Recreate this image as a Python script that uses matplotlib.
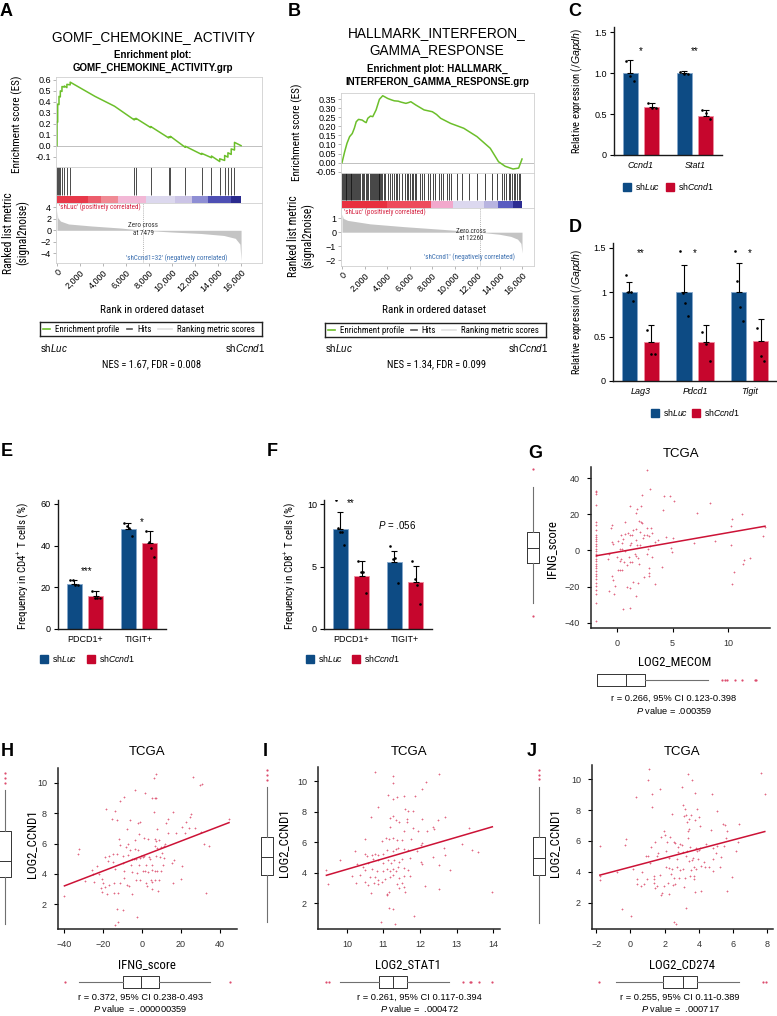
import numpy as np
import matplotlib.pyplot as plt
from matplotlib.patches import Rectangle

W, H = 777, 1016

plt.rcParams['font.family'] = ['Liberation Sans', 'DejaVu Sans']
plt.rcParams['mathtext.fontset'] = 'custom'
plt.rcParams['mathtext.rm'] = 'Liberation Sans'
plt.rcParams['mathtext.it'] = 'Liberation Sans:italic'
plt.rcParams['mathtext.bf'] = 'Liberation Sans:bold'
NARROW = dict(family=['Liberation Sans Narrow', 'Roboto Condensed', 'Open Sans Condensed',
                      'Liberation Sans'], stretch='condensed')

BLUE = '#0d4b84'
RED = '#c6062d'
GREEN = '#6cbf2b'
PT = '#dc4d6e'
LINE = '#cc1236'

# ---------------- GSEA A: GOMF_CHEMOKINE_ACTIVITY ----------------
A_hits = [0, 57, 171, 286, 429, 629, 857, 1143, 6714, 6857, 8143, 9714, 9857, 11143,
          12571, 13429, 14143, 14571, 14857, 15143, 15429]
A_es_rank = [0, 0, 57, 57, 171, 171, 286, 286, 429, 429, 629, 629, 857, 857, 1143, 1143,
             3300, 5000, 6714, 6714, 6857, 6857, 8143, 8143, 9714, 9714, 9857, 9857,
             11143, 11143, 12571, 12571, 13429, 13429, 14143, 14143, 14571, 14571,
             14857, 14857, 15143, 15143, 15429, 15429, 16000]
A_es_val = [0.0, 0.22, 0.215, 0.38, 0.375, 0.45, 0.445, 0.50, 0.495, 0.54, 0.535, 0.545,
            0.53, 0.56, 0.555, 0.58, 0.45, 0.36, 0.235, 0.245, 0.24, 0.25, 0.165, 0.175,
            0.07, 0.08, 0.075, 0.085, -0.015, -0.005, -0.08, -0.07, -0.11, -0.095,
            -0.145, -0.12, -0.135, -0.09, -0.105, -0.065, -0.08, -0.03, -0.04, 0.03, 0.0]
A_metric_rank = [0, 60, 300, 1000, 3000, 5500, 7479, 10000, 12500, 14500, 15500, 15900, 16000]
A_metric_val = [3.5, 2.2, 1.6, 1.1, 0.75, 0.4, 0.0, -0.3, -0.55, -0.9, -1.4, -2.4, -5.3]
A_band_edges = [0, 2714, 3857, 5286, 7714, 10286, 11714, 13143, 15143, 16000]
A_band_cols = ['#e8394a', '#ec5d6c', '#f08a94', '#f2b8d6', '#dcd8ee', '#cbc4e6',
               '#8e8ed4', '#4e4fb4', '#2a2a8e']
A_zero = 7479

# ---------------- GSEA B: HALLMARK_INTERFERON_GAMMA_RESPONSE ----------------
B_hits = [30, 90, 150, 240, 310, 380, 460, 520, 600, 690, 760, 830, 900, 980, 1060, 1150,
          1230, 1300, 1420, 1500, 1620, 1750, 1880, 1960, 2100, 2200, 2330, 2450, 2600,
          2700, 2780, 2850, 2950, 3050, 3120, 3200, 3260, 3330, 3400, 3480, 3560, 3700,
          3850, 4050, 4250, 4400, 4600, 4800, 4900, 5100, 5350, 5600, 5750, 5900, 6050,
          6200, 6300, 6450, 6600, 6900, 7150, 7300, 7600, 7800, 8050, 8300, 8600, 8800,
          9000, 9300, 9500, 9700, 10200, 10700, 11300, 12000, 12700, 13300, 13800, 14200,
          14400, 14600, 14800, 14950, 15100, 15250, 15400, 15550, 15700, 15850]
B_es_rank = [0, 235, 441, 676, 911, 1100, 1264, 1470, 1794, 2000, 2147, 2294, 2529, 2735,
             3029, 3323, 3617, 3800, 4058, 4400, 4647, 5000, 5235, 5676, 5900, 6117, 6558,
             7294, 8029, 8400, 8764, 9647, 10823, 12000, 13176, 13912, 14500, 15200, 15700,
             16000]
B_es_val = [0.0, 0.06, 0.106, 0.143, 0.16, 0.19, 0.225, 0.238, 0.234, 0.225, 0.22, 0.244,
            0.256, 0.253, 0.29, 0.348, 0.368, 0.362, 0.353, 0.345, 0.34, 0.338, 0.333,
            0.326, 0.33, 0.335, 0.317, 0.29, 0.28, 0.265, 0.244, 0.216, 0.189, 0.143,
            0.079, 0.005, -0.02, -0.035, -0.03, 0.02]
B_metric_rank = [0, 100, 500, 2500, 5500, 9000, 12260, 14000, 15000, 15600, 15900, 16000]
B_metric_val = [1.3, 1.0, 0.85, 0.6, 0.4, 0.2, 0.0, -0.15, -0.3, -0.5, -0.8, -1.5]
B_band_edges = [0, 4000, 7900, 9900, 12600, 13900, 15200, 16000]
B_band_cols = ['#e8303f', '#ee4c5c', '#f2a8cc', '#dcd8ef', '#b8b4e0', '#5a5cc0', '#2c2c92']
B_zero = 12260

rank_ticks = [0, 2000, 4000, 6000, 8000, 10000, 12000, 14000, 16000]
rank_labels = ['0', '2,000', '4,000', '6,000', '8,000', '10,000', '12,000', '14,000', '16,000']

# ---------------- qPCR bars C, D ----------------
C_genes = ['Ccnd1', 'Stat1']
C_luc = [1.0, 1.0]
C_luc_sd = [0.16, 0.03]
C_luc_pts = [[1.15, 0.97, 0.90], [1.02, 0.99, 0.99]]
C_kd = [0.59, 0.48]
C_kd_sd = [0.05, 0.07]
C_kd_pts = [[0.64, 0.57, 0.57], [0.55, 0.51, 0.44]]
C_sig = ['*', '**']

D_genes = ['Lag3', 'Pdcd1', 'Tigit']
D_luc = [1.0, 1.0, 1.0]
D_luc_sd = [0.12, 0.31, 0.33]
D_luc_pts = [[1.19, 1.0, 1.0, 0.9], [1.47, 0.99, 0.88, 0.73], [1.47, 1.13, 0.84, 0.68]]
D_kd = [0.44, 0.44, 0.45]
D_kd_sd = [0.19, 0.19, 0.25]
D_kd_pts = [[0.57, 0.31, 0.31], [0.55, 0.42, 0.22], [0.6, 0.28, 0.22]]
D_sig = ['**', '*', '*']

# ---------------- flow bars E, F ----------------
EF_groups = ['PDCD1+', 'TIGIT+']
E_luc = [21.8, 48.1]
E_luc_sd = [1.9, 3.0]
E_luc_pts = [[23.7, 23.7, 21.0, 21.0], [51.1, 49.2, 48.7, 44.7]]
E_kd = [15.6, 41.3]
E_kd_sd = [2.6, 5.7]
E_kd_pts = [[18.2, 14.7, 14.7, 14.7], [47.0, 41.6, 38.7, 34.7]]

F_luc = [8.0, 5.4]
F_luc_sd = [1.4, 0.86]
F_luc_pts = [[10.35, 8.07, 7.73, 7.73, 6.74], [6.66, 5.59, 5.67, 3.66]]
F_kd = [4.28, 3.74]
F_kd_sd = [1.17, 1.34]
F_kd_pts = [[5.45, 4.6, 4.6, 2.86], [5.45, 3.98, 3.53, 2.0]]

# ---------------- TCGA scatter panels ----------------
G_pts = [(-1.85, 33.0), (-1.85, 32.3), (-1.85, 31.2), (-1.85, 25.0), (-1.85, 15.8), (-1.85, 14.0),
         (-1.85, 11.5), (-1.85, 8.8), (-1.85, 7.3), (-1.85, 6.6), (-1.85, 5.1), (-1.85, 3.7),
         (-1.85, 2.4), (-1.85, 1.1), (-1.85, -0.4), (-1.85, -1.8), (-1.85, -3.1), (-1.85, -4.6),
         (-1.85, -5.9), (-1.85, -7.3), (-1.85, -8.6), (-1.85, -9.9), (-1.85, -11.4), (-1.85, -12.8),
         (-1.85, -14.1), (-1.85, -16.0), (-1.85, -17.8), (-1.85, -19.6), (-1.85, -22.0),
         (-1.85, -24.2), (-1.85, -28.8), (-1.85, -38.9),
         (2.73, 44.6), (2.97, 34.1), (2.24, 30.8), (4.24, 30.3), (4.73, 30.3), (5.12, 27.5),
         (1.18, 24.6), (2.18, 24.8), (1.76, 22.8), (1.73, 20.6), (4.12, 22.4), (8.42, 26.1),
         (7.18, 20.9), (10.4, 17.6), (11.27, 20.2), (10.24, 13.6), (13.3, 12.8), (13.15, 8.1),
         (1.97, 16.5), (2.12, 15.8), (2.27, 15.4), (0.76, 15.6), (-0.45, 13.9), (-0.55, 12.5),
         (2.73, 12.5), (3.03, 12.5), (1.67, 11.6), (2.03, 10.3), (1.48, 11.2), (0.73, 9.2),
         (0.36, 8.8), (0.97, 9.5), (1.15, 8.8), (1.33, 8.3), (2.42, 8.8), (2.67, 8.4),
         (2.91, 7.9), (3.18, 9.4), (2.3, 7.0), (1.7, 5.9), (1.82, 3.3), (2.03, 2.8),
         (1.27, 4.2), (1.21, 3.3), (0.42, 3.9), (0.12, 5.5), (0.55, 6.1), (-0.48, 4.8),
         (-0.39, 3.7), (3.73, 5.7), (4.45, 7.2), (5.06, 7.0), (3.39, 4.6), (3.0, 2.4),
         (2.79, 1.1), (4.88, 1.5), (4.91, -1.1), (6.97, 3.9), (8.85, 5.1), (10.27, 3.1),
         (0.24, 0.6), (0.48, 0.7), (0.76, -0.4), (-0.76, -2.2), (-0.85, -4.6), (-0.03, -3.7),
         (0.36, -4.6), (1.09, -3.5), (1.58, -2.2), (1.73, -3.1), (1.88, -4.0), (2.67, -1.7),
         (3.18, -3.5), (0.24, -5.9), (0.67, -6.2), (0.91, -7.9), (1.21, -6.2), (1.36, -6.6),
         (1.94, -7.2), (0.06, -11.0), (0.27, -10.6), (0.42, -10.6), (2.88, -9.7), (2.91, -12.3),
         (2.85, -14.1), (2.42, -14.7), (4.06, -9.2), (-0.42, -13.8), (-0.33, -16.5),
         (1.42, -17.2), (1.85, -18.0), (3.39, -18.3), (-0.15, -19.6), (0.91, -20.2),
         (1.21, -20.6), (-0.73, -22.4), (-0.27, -24.2), (1.7, -25.3), (0.58, -32.3),
         (1.21, -31.7), (11.45, -5.3), (11.39, -7.7), (12.0, -4.4), (10.58, -11.9),
         (10.36, -18.3)]
G_fit = [-1.85, -2.9, 13.33, 13.4]
G_ybox = [-28.7, -7.1, 1.6, 10.1, 34.8]
G_yout = [45.0, -36.3]
G_xbox = [-1.79, -1.79, 0.84, 2.48, 8.2]
G_xout = [9.5, 9.7, 9.9, 10.6, 11.3, 12.4, 12.5]

H_pts = [(7.0, 10.62), (6.3, 10.31), (25.9, 10.42), (30.5, 9.96), (29.8, 9.87), (-3.6, 9.51),
         (1.7, 9.31), (-9.5, 9.09), (-11.2, 8.84), (4.9, 9.02), (6.5, 9.0), (7.1, 8.98),
         (-18.6, 8.31), (-14.1, 8.16), (6.1, 8.07), (15.8, 8.07), (24.9, 7.93), (24.5, 7.73),
         (-15.3, 7.64), (-12.6, 7.58), (-6.0, 7.56), (13.4, 7.64), (-1.9, 7.38), (-1.2, 7.44),
         (22.6, 7.44), (12.1, 7.36), (20.6, 7.09), (24.2, 7.04), (27.4, 7.04), (44.6, 7.62),
         (-7.5, 6.98), (7.7, 6.96), (17.4, 6.67), (13.4, 6.67), (22.1, 6.69), (-1.5, 6.6),
         (30.3, 6.73), (1.0, 6.36), (3.1, 6.29), (-11.6, 6.31), (-7.0, 5.96), (-3.4, 6.2),
         (6.8, 6.29), (7.3, 6.16), (8.5, 6.2), (11.7, 5.96), (-11.2, 5.89), (-8.3, 5.78),
         (-6.0, 5.6), (-3.7, 5.62), (-2.2, 5.6), (6.6, 5.84), (7.8, 5.73), (9.7, 5.76),
         (11.4, 5.84), (31.7, 5.96), (34.2, 5.82), (-32.5, 5.64), (-33.0, 5.29), (-18.9, 5.13),
         (-16.9, 5.16), (-14.8, 5.33), (-12.6, 5.33), (-9.9, 5.2), (-7.0, 5.22), (-5.1, 5.0),
         (-3.9, 4.96), (-3.2, 5.0), (-1.2, 5.04), (-0.3, 5.18), (0.5, 5.11), (1.0, 5.2),
         (3.4, 5.11), (4.3, 4.96), (7.0, 5.18), (9.2, 5.09), (10.0, 5.38), (11.4, 5.02),
         (-17.7, 4.87), (-15.1, 4.76), (-10.0, 4.71), (-5.6, 4.56), (-1.5, 4.56), (2.2, 4.56),
         (5.3, 4.56), (10.7, 4.6), (15.5, 4.73), (16.5, 4.89), (20.6, 4.53), (-25.9, 4.27),
         (-23.1, 4.49), (-25.2, 4.0), (-22.0, 3.98), (-14.0, 4.31), (-9.2, 4.2), (-4.9, 4.09),
         (-2.7, 4.04), (0.5, 4.2), (1.5, 4.2), (3.1, 4.11), (5.3, 4.22), (6.8, 4.16),
         (7.8, 4.16), (9.7, 4.16), (-29.4, 3.51), (-24.5, 3.44), (-20.6, 3.67), (-19.9, 3.42),
         (-14.5, 3.42), (-11.4, 3.38), (-9.5, 3.69), (-7.5, 3.24), (-3.2, 3.56), (-1.2, 3.56),
         (1.9, 3.4), (4.4, 3.6), (4.9, 3.44), (6.5, 3.62), (8.7, 3.56), (15.8, 3.38),
         (19.9, 3.67), (-20.9, 3.09), (-18.9, 3.13), (-17.0, 3.27), (-6.8, 3.18), (2.6, 3.22),
         (4.9, 3.0), (8.2, 2.89), (-20.4, 2.78), (-17.9, 2.64), (-14.5, 2.73), (-12.4, 2.71),
         (-5.4, 2.64), (33.0, 2.73), (-39.8, 2.53), (-12.8, 1.67), (-10.0, 1.6), (-2.4, 1.13),
         (-14.1, 0.64), (-12.1, 0.78)]
H_fit = [-39.8, 3.2, 44.6, 7.38]
H_ybox = [0.67, 3.78, 4.84, 6.82, 9.56]
H_yout = [10.0, 10.33, 10.67]
H_xbox = [-32.3, -9.7, -0.5, 8.5, 34.6]
H_xout = [-39.5, 45.1]

I_pts = [(10.78, 10.61), (11.27, 10.33), (12.53, 10.44), (11.25, 9.89), (12.16, 9.96),
         (12.05, 9.47), (11.13, 9.06), (11.36, 8.97), (11.55, 9.01), (11.25, 8.82),
         (11.87, 9.01), (10.85, 8.27), (11.58, 8.16), (11.66, 8.05), (11.8, 8.05), (10.65, 7.61),
         (12.68, 7.61), (11.18, 7.59), (11.25, 7.7), (11.35, 7.43), (11.43, 7.32), (11.65, 7.54),
         (11.65, 7.32), (12.06, 7.5), (12.5, 7.43), (11.19, 7.0), (11.8, 6.95), (11.55, 6.73),
         (11.95, 6.73), (12.2, 6.73), (12.36, 7.0), (12.39, 6.86), (13.35, 6.95), (11.06, 6.29),
         (11.16, 6.23), (11.27, 6.29), (10.5, 6.23), (10.96, 6.07), (11.36, 6.12), (11.51, 6.16),
         (11.76, 6.21), (12.05, 5.94), (12.02, 5.79), (13.16, 5.9), (12.67, 5.64), (13.43, 5.5),
         (13.6, 5.33), (9.8, 4.85), (10.23, 5.39), (10.49, 5.24), (10.56, 5.07), (10.68, 5.13),
         (10.77, 5.24), (10.86, 5.13), (11.0, 5.24), (11.11, 5.46), (11.25, 5.39), (11.35, 5.57),
         (11.41, 5.64), (11.57, 5.57), (11.68, 5.46), (11.91, 5.39), (12.36, 5.02), (12.68, 5.13),
         (10.27, 4.58), (10.45, 4.36), (10.59, 4.65), (10.71, 4.91), (10.84, 4.85), (10.98, 4.63),
         (11.12, 4.8), (11.2, 4.63), (11.3, 4.85), (11.42, 4.69), (11.5, 4.91), (11.73, 4.96),
         (12.03, 4.69), (10.5, 4.14), (10.68, 4.25), (10.82, 4.1), (10.98, 4.08), (11.09, 4.21),
         (11.18, 4.1), (11.25, 4.23), (11.34, 4.1), (11.4, 4.36), (11.55, 4.32), (11.68, 4.19),
         (12.05, 4.54), (12.51, 4.5), (12.82, 4.14), (9.44, 4.17), (10.14, 3.75), (10.35, 3.82),
         (10.64, 3.71), (10.78, 3.71), (10.85, 3.53), (11.03, 3.6), (11.18, 3.71), (11.27, 3.82),
         (11.43, 3.66), (11.57, 3.75), (11.73, 3.79), (9.48, 3.22), (10.25, 3.31), (10.5, 3.38),
         (10.59, 3.16), (10.73, 3.31), (10.86, 3.27), (10.95, 3.38), (11.36, 3.27), (11.5, 3.33),
         (11.55, 3.05), (11.44, 2.98), (12.15, 3.11), (12.53, 2.92), (10.65, 2.65), (11.09, 2.61),
         (11.11, 2.5), (11.14, 2.72), (11.59, 2.72), (13.97, 2.72), (11.16, 1.67), (11.27, 1.58),
         (11.84, 1.12), (10.93, 0.75), (11.33, 0.64)]
I_fit = [9.44, 3.82, 13.98, 7.0]
I_ybox = [0.75, 3.86, 5.0, 6.3, 9.63]
I_yout = [10.1, 10.4, 10.7]
I_xbox = [9.82, 10.89, 11.25, 11.65, 12.8]
I_xout = [9.44, 9.5, 13.18, 13.36, 13.41, 13.62, 13.98]

J_pts = [(1.1, 10.64), (3.35, 10.33), (7.65, 10.42), (1.04, 9.96), (3.58, 9.92), (3.02, 9.5),
         (1.75, 9.35), (1.23, 9.02), (0.33, 8.84), (3.79, 9.09), (4.79, 9.02), (7.87, 9.02),
         (1.25, 8.19), (3.04, 8.32), (3.21, 8.04), (3.88, 8.06), (5.04, 7.95), (2.4, 7.75),
         (3.12, 7.64), (3.27, 7.66), (3.54, 7.66), (4.0, 7.53), (3.44, 7.42), (3.79, 7.38),
         (3.31, 7.2), (4.08, 6.96), (5.4, 7.09), (5.52, 7.05), (6.37, 7.07), (4.73, 6.7),
         (3.44, 6.77), (3.35, 6.66), (5.62, 6.66), (1.98, 6.66), (2.02, 6.39), (1.79, 6.26),
         (2.29, 6.28), (3.37, 6.18), (5.58, 6.2), (6.31, 5.93), (-0.27, 6.13), (1.42, 5.96),
         (2.13, 5.96), (2.54, 5.96), (2.63, 5.87), (2.92, 5.78), (-0.31, 5.76), (-1.79, 5.69),
         (1.19, 5.61), (2.75, 5.61), (3.0, 5.74), (3.5, 5.61), (3.85, 5.52), (4.08, 5.56),
         (4.42, 5.82), (4.85, 5.56), (5.08, 5.65), (5.44, 5.67), (6.15, 5.32), (1.58, 5.21),
         (2.1, 5.32), (2.77, 5.26), (3.08, 5.3), (3.31, 5.34), (3.87, 5.32), (4.0, 5.39),
         (5.0, 5.21), (0.9, 5.02), (1.04, 5.0), (1.54, 5.02), (2.27, 4.93), (2.73, 4.86),
         (3.25, 5.04), (3.4, 4.69), (3.62, 4.77), (3.67, 4.91), (3.92, 4.82), (4.27, 4.64),
         (4.81, 4.86), (5.29, 4.97), (1.12, 4.58), (2.08, 4.29), (2.25, 4.25), (2.42, 4.21),
         (2.69, 4.29), (2.88, 4.12), (3.08, 4.21), (3.52, 4.14), (3.69, 4.34), (3.83, 4.21),
         (4.15, 4.38), (4.35, 4.34), (4.56, 4.29), (4.81, 4.03), (5.25, 4.29), (0.15, 4.18),
         (0.65, 3.99), (-0.79, 3.96), (-1.79, 3.7), (-1.79, 3.46), (0.37, 3.57), (0.96, 3.53),
         (1.38, 3.75), (1.38, 3.53), (1.73, 3.77), (2.35, 3.83), (2.54, 3.59), (2.85, 3.59),
         (3.21, 3.59), (3.48, 3.7), (3.69, 3.75), (3.73, 3.55), (5.92, 3.68), (0.38, 3.24),
         (0.6, 3.11), (0.81, 3.2), (1.35, 3.31), (1.56, 3.11), (1.94, 3.11), (2.19, 3.26),
         (2.46, 3.16), (2.62, 3.22), (3.13, 3.02), (1.46, 2.94), (1.83, 2.65), (1.81, 2.5),
         (2.27, 2.54), (3.79, 2.72), (4.1, 2.74), (5.67, 2.74), (3.27, 1.67), (-0.5, 1.62),
         (0.04, 1.14), (2.52, 0.75), (2.65, 0.64)]
J_fit = [-1.79, 3.79, 7.85, 6.61]
J_ybox = [0.68, 3.77, 4.87, 6.23, 9.52]
J_yout = [10.0, 10.3, 10.6]
J_xbox = [-0.83, 1.89, 3.04, 3.88, 6.37]
J_xout = [-1.86, 7.73, 7.92]

# ======================================================
fig = plt.figure(figsize=(W / 100, H / 100), dpi=100)
fig.patch.set_facecolor('white')


def px_ax(x0, y0, x1, y1):
    return fig.add_axes([x0 / W, 1 - y1 / H, (x1 - x0) / W, (y1 - y0) / H])


def px_text(x, y, s, **kw):
    kw.setdefault('ha', 'center')
    kw.setdefault('va', 'center')
    return fig.text(x / W, 1 - y / H, s, **kw)


def px_square(x, y, c, size=8):
    fig.add_artist(Rectangle((x / W, 1 - (y + size / 2) / H), size / W, size / H,
                             color=c, transform=fig.transFigure))


def gsea(x0, x1, ys, xmax, hits, hit_col, hit_lw, es_rank, es_val, es_lim, es_ticks, es_fmt,
         bands, band_cols, m_rank, m_val, m_lim, m_ticks):
    y0, y1, y2, y3, y4 = ys
    xl = (-90, xmax)
    ax1 = px_ax(x0, y0, x1, y1)
    ax1.axhline(0, color='#b5b5b5', lw=0.6)
    ax1.plot(es_rank, es_val, color=GREEN, lw=1.1)
    ax1.set_xlim(xl)
    ax1.set_ylim(es_lim)
    ax1.set_xticks([])
    ax1.set_yticks(es_ticks)
    ax1.set_yticklabels([es_fmt % t for t in es_ticks])
    ax2 = px_ax(x0, y1, x1, y3)
    f = (y3 - y2) / (y3 - y1)
    ax2.vlines(hits, f + 0.04, 1, color=hit_col, lw=hit_lw)
    for a, b, c in zip(bands[:-1], bands[1:], band_cols):
        ax2.add_patch(Rectangle((a, 0), b - a, f, color=c, lw=0))
    ax2.set_xlim(xl)
    ax2.set_ylim(0, 1)
    ax2.set_xticks([])
    ax2.set_yticks([])
    ax3 = px_ax(x0, y3, x1, y4)
    ax3.fill_between(m_rank, m_val, 0, color='#c4c4c4', lw=0)
    ax3.set_xlim(xl)
    ax3.set_ylim(m_lim)
    ax3.set_yticks(m_ticks)
    ax3.set_xticks(rank_ticks)
    ax3.set_xticklabels(rank_labels, rotation=45, ha='right', va='top', rotation_mode='anchor')
    for ax in (ax1, ax2, ax3):
        for s in ax.spines.values():
            s.set_color('#d0d0d0')
            s.set_linewidth(0.6)
        ax.tick_params(labelsize=6.5, length=2, width=0.5, pad=1.5, color='#999999')
    return ax1, ax2, ax3


def gsea_legend(x0, x1, y0, y1):
    ax = px_ax(x0, y0, x1, y1)
    ax.set_xlim(0, 1)
    ax.set_ylim(0, 1)
    ax.set_xticks([])
    ax.set_yticks([])
    for s in ax.spines.values():
        s.set_linewidth(1.0)
        s.set_color('#222222')
    for a, b, c, t in [(0.014, 0.045, GREEN, 'Enrichment profile'),
                       (0.39, 0.415, '#555555', 'Hits'),
                       (0.53, 0.595, '#e2e2e2', 'Ranking metric scores')]:
        ax.plot([a, b], [0.5, 0.5], color=c, lw=1.2)
        ax.text(b + 0.022, 0.47, t, va='center', ha='left', fontsize=6.4, **NARROW)


# ---------------- panel A ----------------
axA1, axA2, axA3 = gsea(56, 262, (77, 167, 196, 203, 263), 17820, A_hits, '#4a4a4a', 0.7,
                       A_es_rank, A_es_val, (-0.195, 0.627),
                       [0.6, 0.5, 0.4, 0.3, 0.2, 0.1, 0.0, -0.1], '%.1f',
                       A_band_edges, A_band_cols, A_metric_rank, A_metric_val,
                       (-5.69, 4.75), [4, 2, 0, -2, -4])
axA3.axvline(A_zero, color='#9a9a9a', lw=0.6, ls=(0, (1, 1.5)))
axA3.text(A_zero, 0.1, 'Zero cross\nat %d' % A_zero, ha='center', va='center', fontsize=5,
          color='#333333', linespacing=1.1, **NARROW)
axA3.text(200, 4.0, "'shLuc' (positively correlated)", ha='left', va='center', fontsize=5,
          color='#d4203f', **NARROW)
axA3.text(10400, -4.8, "'shCcnd1=32' (negatively correlated)", ha='center', va='center',
          fontsize=5, color='#3b6fb0', **NARROW)

px_text(6, 11, 'A', fontsize=13, fontweight='bold')
px_text(153, 37, 'GOMF_CHEMOKINE_ ACTIVITY', fontsize=9.8)
px_text(153, 55, 'Enrichment plot:', fontsize=7, fontweight='bold')
px_text(153, 68, 'GOMF_CHEMOKINE_ACTIVITY.grp', fontsize=7, fontweight='bold')
px_text(17, 124, 'Enrichment score (ES)', rotation=90, fontsize=8.0, **NARROW)
px_text(16, 233, 'Ranked list metric\n(signal2noise)', rotation=90, fontsize=8.3,
        linespacing=1.1, **NARROW)
px_text(152, 310, 'Rank in ordered dataset', fontsize=8.0, **NARROW)
gsea_legend(40, 262, 322, 336)
px_text(40, 348, r'sh$\mathit{Luc}$', ha='left', fontsize=7)
px_text(265, 348, r'sh$\mathit{Ccnd1}$', ha='right', fontsize=7)
px_text(152, 364, 'NES = 1.67, FDR = 0.008', fontsize=7.6, **NARROW)

# ---------------- panel B ----------------
axB1, axB2, axB3 = gsea(341, 534, (93, 173, 201, 208, 266), 17065, B_hits, '#111111', 0.55,
                       B_es_rank, B_es_val, (-0.057, 0.383),
                       [0.35, 0.3, 0.25, 0.2, 0.15, 0.1, 0.05, 0.0, -0.05], '%.2f',
                       B_band_edges, B_band_cols, B_metric_rank, B_metric_val,
                       (-2.43, 1.74), [1, 0, -1, -2])
axB3.axvline(B_zero, color='#9a9a9a', lw=0.6, ls=(0, (1, 1.5)))
axB3.text(11500, -0.2, 'Zero cross\nat %d' % B_zero, ha='center', va='center', fontsize=5,
          color='#333333', linespacing=1.1, **NARROW)
axB3.text(200, 1.45, "'shLuc' (positively correlated)", ha='left', va='center', fontsize=5,
          color='#d4203f', **NARROW)
axB3.text(11300, -1.8, "'shCcnd1' (negatively correlated)", ha='center', va='center',
          fontsize=5, color='#3b6fb0', **NARROW)

px_text(294, 11, 'B', fontsize=13, fontweight='bold')
px_text(437, 33, 'HALLMARK_INTERFERON_', fontsize=9.8)
px_text(437, 50, 'GAMMA_RESPONSE', fontsize=9.8)
px_text(437, 69, 'Enrichment plot: HALLMARK_', fontsize=7, fontweight='bold')
px_text(437, 82, 'INTERFERON_GAMMA_RESPONSE.grp', fontsize=7, fontweight='bold')
px_text(297, 132, 'Enrichment score (ES)', rotation=90, fontsize=8.0, **NARROW)
px_text(301, 236, 'Ranked list metric\n(signal2noise)', rotation=90, fontsize=8.3,
        linespacing=1.1, **NARROW)
px_text(434, 310, 'Rank in ordered dataset', fontsize=8.0, **NARROW)
gsea_legend(325, 546, 323, 337)
px_text(325, 348, r'sh$\mathit{Luc}$', ha='left', fontsize=7)
px_text(548, 348, r'sh$\mathit{Ccnd1}$', ha='right', fontsize=7)
px_text(437, 364, 'NES = 1.34, FDR = 0.099', fontsize=7.6, **NARROW)


# ---------------- bar panels ----------------
def bars(ax, labels, luc, luc_sd, luc_pts, kd, kd_sd, kd_pts, ylim, yticks, ylabels, italic):
    x = np.arange(len(labels))
    off, w = 0.2, 0.28
    ax.bar(x - off, luc, w, color=BLUE, edgecolor='#86a8cc', linewidth=0.6, zorder=1)
    ax.bar(x + off, kd, w, color=RED, edgecolor='#f08fa0', linewidth=0.6, zorder=1)
    z = np.zeros(len(x))
    ax.errorbar(x - off, luc, yerr=[z, luc_sd], fmt='none', ecolor='black', elinewidth=0.8,
                capsize=2.2, capthick=0.8, zorder=2)
    ax.errorbar(x + off, kd, yerr=[z, kd_sd], fmt='none', ecolor='black', elinewidth=0.8,
                capsize=2.2, capthick=0.8, zorder=2)
    for i in range(len(x)):
        for xc, pts in ((x[i] - off, luc_pts[i]), (x[i] + off, kd_pts[i])):
            n = len(pts)
            ax.scatter(xc + np.linspace(-0.07, 0.07, n), pts, s=3.5, color='black', lw=0, zorder=3)
    ax.set_xlim(-0.5, len(x) - 0.5)
    ax.set_ylim(ylim)
    ax.set_yticks(yticks)
    ax.set_yticklabels(ylabels)
    ax.set_xticks(x)
    ax.set_xticklabels(labels, fontstyle='italic' if italic else 'normal')
    for s in ('top', 'right'):
        ax.spines[s].set_visible(False)
    for s in ('left', 'bottom'):
        ax.spines[s].set_linewidth(1.0)
        ax.spines[s].set_color('#1a1a1a')
    ax.tick_params(labelsize=6.5, length=3, width=0.8, pad=2)
    ax.tick_params(axis='x', length=0, pad=4)


def bar_legend(xb, xr, y):
    px_square(xb, y, BLUE)
    px_text(xb + 12, y, r'sh$\mathit{Luc}$', ha='left', fontsize=6.3)
    px_square(xr, y, RED)
    px_text(xr + 12, y, r'sh$\mathit{Ccnd1}$', ha='left', fontsize=6.3)


axC = px_ax(614, 27, 722, 155)
bars(axC, C_genes, C_luc, C_luc_sd, C_luc_pts, C_kd, C_kd_sd, C_kd_pts, (0, 1.565),
     [0, 0.5, 1.0, 1.5], ['0', '0.5', '1.0', '1.5'], True)
for i, s in enumerate(C_sig):
    axC.text(i, 1.27, s, ha='center', va='center', fontsize=7)
px_text(575, 12, 'C', fontsize=13, fontweight='bold')
px_text(577, 91, r'Relative expression (/$\mathit{Gapdh}$)', rotation=90, fontsize=7.6, **NARROW)
bar_legend(623, 666, 187)

axD = px_ax(613, 243, 777, 381)
bars(axD, D_genes, D_luc, D_luc_sd, D_luc_pts, D_kd, D_kd_sd, D_kd_pts, (0, 1.556),
     [0, 0.5, 1, 1.5], ['0', '0.5', '1', '1.5'], True)
for i, s in enumerate(D_sig):
    axD.text(i, 1.44, s, ha='center', va='center', fontsize=7)
px_text(575, 227, 'D', fontsize=13, fontweight='bold')
px_text(577, 312, r'Relative expression (/$\mathit{Gapdh}$)', rotation=90, fontsize=7.6, **NARROW)
bar_legend(651, 692, 413)

axE = px_ax(58, 500, 166, 629)
bars(axE, EF_groups, E_luc, E_luc_sd, E_luc_pts, E_kd, E_kd_sd, E_kd_pts, (0, 61.9),
     [0, 20, 40, 60], ['0', '20', '40', '60'], False)
axE.text(0.03, 27.7, '***', ha='center', va='center', fontsize=7)
axE.text(1.06, 51.1, '*', ha='center', va='center', fontsize=7)
px_text(7, 452, 'E', fontsize=13, fontweight='bold')
px_text(23, 566, r'Frequency in CD4$^{+}$ T cells (%)', rotation=90, fontsize=7.8, **NARROW)
bar_legend(40, 87, 659)

axF = px_ax(324, 500, 432, 629)
bars(axF, EF_groups, F_luc, F_luc_sd, F_luc_pts, F_kd, F_kd_sd, F_kd_pts, (0, 10.32),
     [0, 5, 10], ['0', '5', '10'], False)
axF.text(0.0, 10.1, '**', ha='center', va='center', fontsize=7)
axF.text(0.85, 8.35, r'$\mathit{P}$ = .056', ha='center', va='center', fontsize=7)
px_text(272, 452, 'F', fontsize=13, fontweight='bold')
px_text(290, 566, r'Frequency in CD8$^{+}$ T cells (%)', rotation=90, fontsize=7.8, **NARROW)
bar_legend(306, 352, 659)

# ---------------- scatter panels ----------------
BOXKW = dict(showfliers=True, showcaps=False,
             boxprops=dict(color='#333333', lw=0.7),
             whiskerprops=dict(color='#707070', lw=0.8),
             medianprops=dict(color='#333333', lw=0.7),
             flierprops=dict(marker='o', ms=1.6, mfc=PT, mec='none'))


def box_stats(b, out):
    return [dict(whislo=b[0], q1=b[1], med=b[2], q3=b[3], whishi=b[4], fliers=out)]


def scatter_panel(rect, pts, fit, xlim, ylim, xticks, yticks, vx, ybox, yout, hy, xbox, xout):
    x0, y0, x1, y1 = rect
    ax = px_ax(x0, y0, x1, y1)
    p = np.array(pts)
    ax.scatter(p[:, 0], p[:, 1], marker='+', s=4, lw=0.55, color=PT, alpha=0.85, zorder=2)
    ax.plot([fit[0], fit[2]], [fit[1], fit[3]], color=LINE, lw=1.1, zorder=3)
    ax.set_xlim(xlim)
    ax.set_ylim(ylim)
    ax.set_xticks(xticks)
    ax.set_yticks(yticks)
    for s in ('top', 'right'):
        ax.spines[s].set_visible(False)
    for s in ('left', 'bottom'):
        ax.spines[s].set_linewidth(1.1)
        ax.spines[s].set_color('#222222')
    ax.tick_params(labelsize=6.5, length=3, width=0.8, pad=5, labelcolor='#333333')
    bv = px_ax(vx - 7, y0, vx + 7, y1)
    bv.bxp(box_stats(ybox, yout), positions=[0], widths=0.8, orientation='vertical', **BOXKW)
    bv.set_xlim(-0.5, 0.5)
    bv.set_ylim(ylim)
    bv.axis('off')
    bh = px_ax(x0, hy - 7, x1, hy + 7)
    bh.bxp(box_stats(xbox, xout), positions=[0], widths=0.8, orientation='horizontal', **BOXKW)
    bh.set_ylim(-0.5, 0.5)
    bh.set_xlim(xlim)
    bh.axis('off')
    return ax


scatter_panel((591, 467, 770, 628), G_pts, G_fit, (-2.34, 13.78), (-42.76, 46.07),
              [0, 5, 10], [-40, -20, 0, 20, 40], 533, G_ybox, G_yout, 680, G_xbox, G_xout)
px_text(535, 454, 'G', fontsize=13, fontweight='bold')
px_text(681, 454, 'TCGA', fontsize=9.5)
px_text(552, 549, 'IFNG_score', rotation=90, fontsize=9.2, **NARROW)
px_text(675, 662, 'LOG2_MECOM', fontsize=9.2, **NARROW)
px_text(674, 698, 'r = 0.266, 95% CI 0.123-0.398', fontsize=6.7)
px_text(674, 710, r'$\mathit{P}$ value = .000359', fontsize=6.7)

scatter_panel((58, 768, 237, 929), H_pts, H_fit, (-43.1, 48.7), (0.35, 10.99),
              [-40, -20, 0, 20, 40], [2, 4, 6, 8, 10], 5, H_ybox, H_yout, 982, H_xbox, H_xout)
px_text(7, 752, 'H', fontsize=13, fontweight='bold')
px_text(147, 752, 'TCGA', fontsize=9.5)
px_text(32, 844, 'LOG2_CCND1', rotation=90, fontsize=9.2, **NARROW)
px_text(147, 965, 'IFNG_score', fontsize=9.2, **NARROW)
px_text(140, 997, 'r = 0.372, 95% CI 0.238-0.493', fontsize=6.7)
px_text(140, 1009, r'$\mathit{P}$ value  = .000000359', fontsize=6.7)

scatter_panel((318, 767, 500, 929), I_pts, I_fit, (9.21, 14.19), (0.3, 10.92),
              [10, 11, 12, 13, 14], [2, 4, 6, 8, 10], 267, I_ybox, I_yout, 982, I_xbox, I_xout)
px_text(265, 752, 'I', fontsize=13, fontweight='bold')
px_text(409, 752, 'TCGA', fontsize=9.5)
px_text(284, 843, 'LOG2_CCND1', rotation=90, fontsize=9.2, **NARROW)
px_text(408, 965, 'LOG2_STAT1', fontsize=9.2, **NARROW)
px_text(419, 997, 'r = 0.261, 95% CI 0.117-0.394', fontsize=6.7)
px_text(419, 1009, r'$\mathit{P}$ value =  .000472', fontsize=6.7)

scatter_panel((592, 765, 773, 929), J_pts, J_fit, (-2.25, 8.33), (0.3, 10.92),
              [-2, 0, 2, 4, 6, 8], [2, 4, 6, 8, 10], 539, J_ybox, J_yout, 982, J_xbox, J_xout)
px_text(532, 752, 'J', fontsize=13, fontweight='bold')
px_text(682, 752, 'TCGA', fontsize=9.5)
px_text(555, 843, 'LOG2_CCND1', rotation=90, fontsize=9.2, **NARROW)
px_text(682, 965, 'LOG2_CD274', fontsize=9.2, **NARROW)
px_text(680, 997, 'r = 0.255, 95% CI 0.11-0.389', fontsize=6.7)
px_text(680, 1009, r'$\mathit{P}$ value =  .000717', fontsize=6.7)

fig.savefig('out.png', dpi=100, facecolor='white')
